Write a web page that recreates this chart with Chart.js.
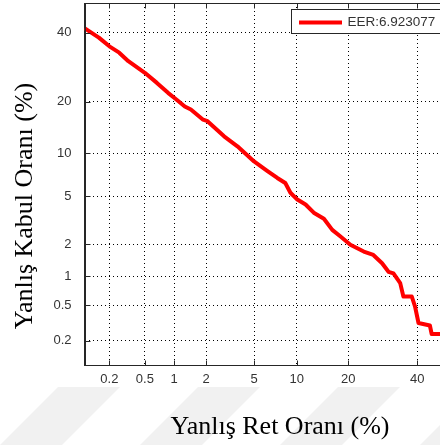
<!DOCTYPE html>
<html>
<head>
<meta charset="utf-8">
<script src="https://cdn.jsdelivr.net/npm/chart.js@4"></script>
<style>
  html, body { margin: 0; padding: 0; overflow: hidden; background: #fff; }
  #wrap { position: relative; width: 452px; height: 445px; }
  #det { position: absolute; left: 0; top: 0; }
  #ytitle {
    position: absolute; left: -126px; top: 190.5px; width: 300px; height: 30px;
    line-height: 30px; text-align: center; white-space: nowrap;
    font: 26px "Liberation Serif", "Times New Roman", serif; color: #000;
    transform: rotate(-90deg); transform-origin: 50% 50%;
  }
</style>
</head>
<body>
<div id="wrap"><canvas id="det" width="452" height="445"></canvas><div id="ytitle"></div></div>
<script>
// DET curve, both axes in percent on a normal-deviate scale
const xTickValues = [0.2, 0.5, 1, 2, 5, 10, 20, 40];
const yTickValues = [0.2, 0.5, 1, 2, 5, 10, 20, 40];
const seriesLabel = 'EER:6.923077';
const xTitle = 'Yanlış Ret Oranı (%)';
const yTitle = 'Yanlış Kabul Oranı (%)';

// false reject rate (%) -> x
const falseRejectRate = [0.1, 0.15, 0.2, 0.26, 0.33, 0.5, 0.67, 0.87, 1.06, 1.27, 1.45, 1.88, 2.06, 2.87, 3.7,
  5.0, 6.3, 7.4, 8.4, 9.1, 10.1, 11.4, 12.8, 14.7, 16.4, 18.2, 20.5, 23.9, 26.5, 29.0, 30.9, 32.4, 34.5,
  35.5, 38.2, 39.3, 40.4, 44.2, 44.8, 50];
// false accept rate (%) -> y
const falseAcceptRate = [41.5, 38.4, 35.6, 33.6, 31.0, 27.6, 24.8, 22.2, 20.5, 18.9, 18.2, 16.0, 15.7, 12.8, 11.1,
  8.85, 7.6, 6.8, 6.25, 5.3, 4.7, 4.3, 3.7, 3.3, 2.66, 2.33, 1.97, 1.71, 1.59, 1.33, 1.10, 1.06, 0.85,
  0.62, 0.62, 0.48, 0.32, 0.30, 0.24, 0.24];

document.getElementById('ytitle').textContent = yTitle;

// inverse normal CDF (Acklam)
function probit(p) {
  const a = [-39.69683028665376, 220.9460984245205, -275.9285104469687, 138.3577518672690, -30.66479806614716, 2.506628277459239];
  const b = [-54.47609879822406, 161.5858368580409, -155.6989798598866, 66.80131188771972, -13.28068155288572];
  const c = [-0.007784894002430293, -0.3223964580411365, -2.400758276837607, -2.549671348283430, 4.374664141464968, 2.938163982698783];
  const d = [0.007784695709041462, 0.3224671290700398, 2.445134137142996, 3.754408661907416];
  const plow = 0.02425;
  let q, r;
  if (p < plow) {
    q = Math.sqrt(-2 * Math.log(p));
    return (((((c[0]*q+c[1])*q+c[2])*q+c[3])*q+c[4])*q+c[5]) / ((((d[0]*q+d[1])*q+d[2])*q+d[3])*q+1);
  }
  if (p <= 1 - plow) {
    q = p - 0.5; r = q * q;
    return (((((a[0]*r+a[1])*r+a[2])*r+a[3])*r+a[4])*r+a[5])*q / (((((b[0]*r+b[1])*r+b[2])*r+b[3])*r+b[4])*r+1);
  }
  q = Math.sqrt(-2 * Math.log(1 - p));
  return -(((((c[0]*q+c[1])*q+c[2])*q+c[3])*q+c[4])*q+c[5]) / ((((d[0]*q+d[1])*q+d[2])*q+d[3])*q+1);
}

class ProbitScale extends Chart.LinearScale {
  static id = 'probit';
  getPixelForValue(value) {
    const lo = probit(this.min / 100), hi = probit(this.max / 100);
    return this.getPixelForDecimal((probit(value / 100) - lo) / (hi - lo));
  }
}
Chart.register(ProbitScale);

const tickFont = { family: '"Liberation Sans", Arial, sans-serif', size: 13 };
const textGray = '#333333';

// fixed box sizes so the plot area lands where the reference has it
function fixBox(s, size) {
  if (s.isHorizontal()) s.height = size; else s.width = size;
  s.paddingTop = 0; s.paddingBottom = 0; s.paddingLeft = 0; s.paddingRight = 0;
}

// faint diagonal watermark band at the bottom
const watermark = {
  id: 'watermark',
  beforeDraw(chart) {
    const ctx = chart.ctx;
    ctx.save();
    ctx.fillStyle = '#f1f1f1';
    for (let k = -140; k <= 560; k += 140) {
      ctx.beginPath();
      ctx.moveTo(k, 445);
      ctx.lineTo(k + 62, 445);
      ctx.lineTo(k + 120, 387);
      ctx.lineTo(k + 58, 387);
      ctx.closePath();
      ctx.fill();
    }
    ctx.restore();
  }
};

// box around the axes, inward ticks, legend and x title
const decorations = {
  id: 'decorations',
  afterDatasetsDraw(chart) {
    const { ctx, chartArea: ca, scales } = chart;
    const L = Math.round(ca.left) + 0.5, R = Math.round(ca.right) - 0.5;
    const T = Math.round(ca.top) + 0.5, B = Math.round(ca.bottom) - 0.5;
    ctx.save();
    ctx.strokeStyle = '#262626';
    ctx.lineWidth = 1;
    ctx.strokeRect(L, T, R - L, B - T);
    ctx.beginPath();
    xTickValues.forEach(v => {
      const px = Math.round(scales.x.getPixelForValue(v)) + 0.5;
      ctx.moveTo(px, B); ctx.lineTo(px, B - 5);
      ctx.moveTo(px, T); ctx.lineTo(px, T + 5);
    });
    yTickValues.forEach(v => {
      const py = Math.round(scales.y.getPixelForValue(v)) + 0.5;
      ctx.moveTo(L, py); ctx.lineTo(L + 5, py);
      ctx.moveTo(R, py); ctx.lineTo(R - 5, py);
    });
    ctx.stroke();

    // legend
    const ds = chart.data.datasets[0];
    ctx.fillStyle = '#fff';
    ctx.fillRect(291.5, 9.5, 200, 24);
    ctx.strokeRect(291.5, 9.5, 200, 24);
    ctx.strokeStyle = ds.borderColor;
    ctx.lineWidth = 4;
    ctx.beginPath();
    ctx.moveTo(299, 22.5); ctx.lineTo(342, 22.5);
    ctx.stroke();
    ctx.fillStyle = textGray;
    ctx.font = '13.5px "Liberation Sans", Arial, sans-serif';
    ctx.textAlign = 'left';
    ctx.textBaseline = 'middle';
    ctx.fillText(ds.label, 347.5, 22.5);

    // x title
    ctx.fillStyle = '#000';
    ctx.font = '26px "Liberation Serif", "Times New Roman", serif';
    ctx.textAlign = 'center';
    ctx.textBaseline = 'alphabetic';
    ctx.fillText(xTitle, 280, 434);
    ctx.restore();
  }
};

new Chart(document.getElementById('det'), {
  type: 'line',
  data: {
    datasets: [{
      label: seriesLabel,
      data: falseRejectRate.map((x, i) => ({ x, y: falseAcceptRate[i] })),
      borderColor: '#ff0000',
      borderWidth: 4,
      pointRadius: 0,
      tension: 0,
      borderJoinStyle: 'round',
    }],
  },
  options: {
    responsive: false,
    animation: false,
    devicePixelRatio: 1,
    events: [],
    layout: { padding: { top: 3, right: 5, left: 0, bottom: 0 } },
    plugins: { legend: { display: false }, tooltip: { enabled: false } },
    scales: {
      x: {
        type: 'probit', position: 'bottom', min: 0.1, max: 50, bounds: 'data',
        afterBuildTicks: s => { s.ticks = xTickValues.map(v => ({ value: v })); },
        afterFit: s => fixBox(s, 79.3),
        grid: { color: '#000', drawTicks: false },
        border: { display: true, color: '#262626', dash: [1, 3] },
        ticks: { callback: v => String(v), autoSkip: false, maxRotation: 0, padding: 6, color: textGray, font: tickFont },
      },
      y: {
        type: 'probit', position: 'left', min: 0.1, max: 50, bounds: 'data',
        afterBuildTicks: s => { s.ticks = yTickValues.map(v => ({ value: v })); },
        afterFit: s => fixBox(s, 84.5),
        grid: { color: '#000', drawTicks: false },
        border: { display: true, color: '#262626', dash: [1, 3] },
        ticks: { callback: v => String(v), autoSkip: false, padding: 13, color: textGray, font: tickFont },
      },
    },
  },
  plugins: [watermark, decorations],
});
</script>
</body>
</html>
